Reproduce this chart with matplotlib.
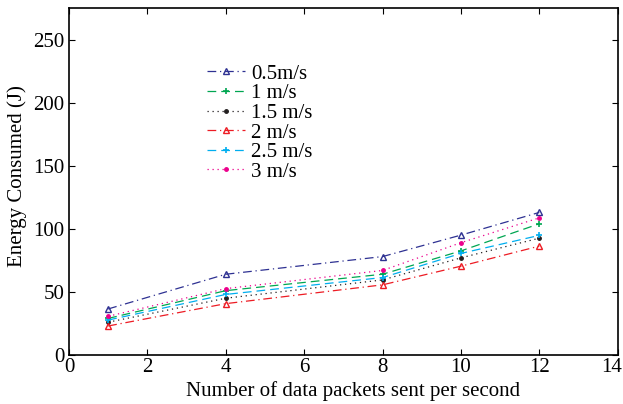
import matplotlib
matplotlib.use("Agg")
import matplotlib.pyplot as plt
import matplotlib.transforms as mtransforms

plt.rcParams['font.family'] = ['Liberation Serif', 'DejaVu Serif']
plt.rcParams['mathtext.fontset'] = 'stix'

x = [1, 4, 8, 10, 12]
labels = ['0.5m/s', '1 m/s', '1.5 m/s', '2 m/s', '2.5 m/s', '3 m/s']
v05 = [36.5, 64, 78, 95, 113]
v1 = [29, 51, 64, 82.5, 104]
v15 = [26, 45, 59.5, 77, 92.6]
v2 = [23, 40.7, 55.6, 70.4, 86.3]
v25 = [27.7, 48, 61.4, 80.5, 94.8]
v3 = [30.7, 52.6, 67, 89, 108.7]

series = [v05, v1, v15, v2, v25, v3]
colors = ['#2e3192', '#00a651', '#231f20', '#ed1c24', '#00aeef', '#ec008c']
styles = [(0, (7, 3, 1, 3)), (0, (7, 4)), (0, (1, 3)), (0, (7, 3, 1, 3)), (0, (7, 4)), (0, (1, 3))]
markers = ['^', '+', '.', '^', '+', '.']

fig = plt.figure(figsize=(6.23, 4.04), dpi=100)
ax = fig.add_axes([69/623, 49/404, (617.7-69)/623, (355-8)/404])

for vals, lab, c, ls, m in zip(series, labels, colors, styles, markers):
    if m == '^':
        ax.plot(x, vals, linestyle=ls, color=c, marker=m, markersize=5,
                markerfacecolor='none', markeredgecolor=c, linewidth=0.9, label=lab)
    elif m == '+':
        ax.plot(x, vals, linestyle=ls, color=c, marker=m, markersize=5,
                markeredgewidth=1.2, linewidth=0.9, label=lab)
    else:
        ax.plot(x, vals, linestyle=ls, color=c, marker=m, markersize=5,
                linewidth=0.9, label=lab)

ax.set_xlim(0, 14)
ax.set_ylim(0, 275)
ax.set_xticks(range(0, 15, 2))
ax.set_yticks(range(0, 251, 50))
ax.tick_params(direction='in', top=True, right=True, labelsize=15, length=4, width=0.8)
ax.tick_params(axis='x', pad=2)
for sp in ax.spines.values():
    sp.set_linewidth(1.2)
ax.set_xlabel('Number of data packets sent per second', fontsize=15, va='baseline')
ax.set_ylabel('Energy Consumed (J)', fontsize=15, labelpad=4)
ax.xaxis.set_label_coords((353 - 69) / 548.7, -(396 - 355) / 347)
ax.yaxis.get_label().set_y((355 - 176) / 347)

fig.canvas.draw()
last = ax.get_xticklabels()[-1]
last.set_transform(last.get_transform() + mtransforms.ScaledTranslation(-6/100, 0, fig.dpi_scale_trans))

leg = ax.legend(loc='upper left', bbox_to_anchor=(203/623, 1 - 60/404),
                bbox_transform=fig.transFigure, frameon=False, fontsize=15,
                handlelength=1.8, handletextpad=0.3, labelspacing=0.0,
                borderpad=0.2, borderaxespad=0)

fig.savefig('out.png', dpi=100)
